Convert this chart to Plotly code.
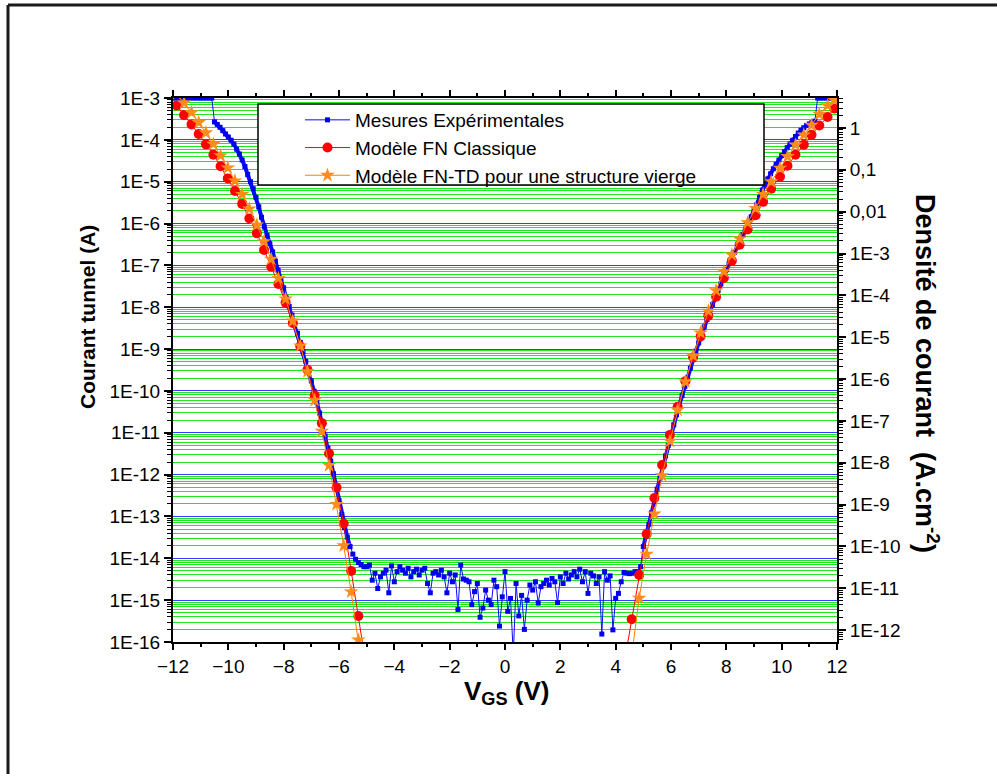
import plotly.graph_objects as go

# ---------------- data ----------------
v_exp = [
    -12.0, -11.9, -11.8, -11.7, -11.6, -11.5, -11.4, -11.3, -11.2, -11.1,
    -11.0, -10.9, -10.8, -10.7, -10.6, -10.5, -10.4, -10.3, -10.2, -10.1,
    -10.0, -9.9, -9.8, -9.7, -9.6, -9.5, -9.4, -9.3, -9.2, -9.1,
    -9.0, -8.9, -8.8, -8.7, -8.6, -8.5, -8.4, -8.3, -8.2, -8.1,
    -8.0, -7.9, -7.8, -7.7, -7.6, -7.5, -7.4, -7.3, -7.2, -7.1,
    -7.0, -6.9, -6.8, -6.7, -6.6, -6.5, -6.4, -6.3, -6.2, -6.1,
    -6.0, -5.9, -5.8, -5.7, -5.6, -5.5, -5.4, -5.3, -5.2, -5.1,
    -5.0, -4.9, -4.8, -4.7, -4.6, -4.5, -4.4, -4.3, -4.2, -4.1,
    -4.0, -3.9, -3.8, -3.7, -3.6, -3.5, -3.4, -3.3, -3.2, -3.1,
    -3.0, -2.9, -2.8, -2.7, -2.6, -2.5, -2.4, -2.3, -2.2, -2.1,
    -2.0, -1.9, -1.8, -1.7, -1.6, -1.5, -1.4, -1.3, -1.2, -1.1,
    -1.0, -0.9, -0.8, -0.7, -0.6, -0.5, -0.4, -0.3, -0.2, -0.1,
    0.0, 0.1, 0.2, 0.3, 0.4, 0.5, 0.6, 0.7, 0.8, 0.9,
    1.0, 1.1, 1.2, 1.3, 1.4, 1.5, 1.6, 1.7, 1.8, 1.9,
    2.0, 2.1, 2.2, 2.3, 2.4, 2.5, 2.6, 2.7, 2.8, 2.9,
    3.0, 3.1, 3.2, 3.3, 3.4, 3.5, 3.6, 3.7, 3.8, 3.9,
    4.0, 4.1, 4.2, 4.3, 4.4, 4.5, 4.6, 4.7, 4.8, 4.9,
    5.0, 5.1, 5.2, 5.3, 5.4, 5.5, 5.6, 5.7, 5.8, 5.9,
    6.0, 6.1, 6.2, 6.3, 6.4, 6.5, 6.6, 6.7, 6.8, 6.9,
    7.0, 7.1, 7.2, 7.3, 7.4, 7.5, 7.6, 7.7, 7.8, 7.9,
    8.0, 8.1, 8.2, 8.3, 8.4, 8.5, 8.6, 8.7, 8.8, 8.9,
    9.0, 9.1, 9.2, 9.3, 9.4, 9.5, 9.6, 9.7, 9.8, 9.9,
    10.0, 10.1, 10.2, 10.3, 10.4, 10.5, 10.6, 10.7, 10.8, 10.9,
    11.0, 11.1, 11.2, 11.3, 11.4, 11.5, 11.6, 11.7, 11.8, 11.9,
    12.0,
]

i_exp = [
    1e-3, 1e-3, 1e-3, 1e-3, 1e-3, 1e-3, 1e-3, 1e-3, 1e-3, 1e-3,
    1e-3, 1e-3, 1e-3, 1e-3, 1e-3, 2.69e-4, 2.34e-4, 2.0e-4, 1.66e-4, 1.38e-4,
    1.17e-4, 9.8e-5, 7.9e-5, 6.0e-5, 4.6e-5, 3.3e-5, 2.3e-5, 1.48e-5, 1.0e-5, 6.8e-6,
    4.2e-6, 2.5e-6, 1.41e-6, 8.3e-7, 5.2e-7, 3.3e-7, 2.1e-7, 1.26e-7, 7.6e-8, 4.7e-8,
    2.9e-8, 1.66e-8, 1.05e-8, 6.5e-9, 4.0e-9, 2.4e-9, 1.45e-9, 8.7e-10, 5.1e-10, 3.0e-10,
    1.74e-10, 9.8e-11, 5.4e-11, 2.95e-11, 1.58e-11, 8.3e-12, 4.3e-12, 2.1e-12, 1.05e-12, 5.0e-13,
    2.4e-13, 1.12e-13, 5.4e-14, 3.2e-14, 1.9e-14, 1.26e-14, 9.5e-15, 7.9e-15, 7.1e-15, 6.3e-15,
    6.3e-15, 6.9e-15, 3.0e-15, 4.4e-15, 1.9e-15, 3.6e-15, 4.4e-15, 5.2e-15, 1.5e-15, 6.6e-15,
    2.75e-15, 4.8e-15, 6.3e-15, 5.2e-15, 4.4e-15, 5.8e-15, 3.6e-15, 4.8e-15, 5.5e-15, 4.0e-15,
    5.2e-15, 5.8e-15, 2.5e-15, 1.5e-15, 4.4e-15, 4.8e-15, 4.0e-15, 5.2e-15, 3.6e-15, 1.5e-15,
    4.4e-15, 2.75e-15, 4.0e-15, 6.0e-16, 6.9e-15, 3.2e-15, 3.0e-15, 2.75e-15, 7.8e-16, 1.6e-15,
    2.5e-15, 3.9e-16, 6.5e-16, 1.74e-15, 1.0e-15, 7.8e-16, 3.0e-15, 2.1e-15, 2.4e-16, 1.2e-15,
    4.8e-15, 5.4e-16, 1.1e-15, 5e-17, 2.5e-15, 4.2e-16, 1.3e-15, 2.0e-16, 1.0e-15, 2.3e-15,
    1.74e-15, 2.75e-15, 8.5e-16, 2.1e-15, 2.5e-15, 3.0e-15, 2.3e-15, 3.3e-15, 2.75e-15, 8.7e-16,
    3.6e-15, 2.5e-15, 4.4e-15, 3.2e-15, 4.0e-15, 4.8e-15, 3.6e-15, 5.5e-15, 2.75e-15, 4.8e-15,
    1.45e-15, 4.4e-15, 3.8e-15, 2.5e-15, 3.6e-15, 1.55e-16, 4.8e-15, 3.0e-15, 3.8e-15, 1.95e-16,
    1.1e-15, 1.45e-15, 2.75e-15, 4.6e-15, 4.4e-15, 4.3e-15, 4.4e-15, 4.8e-15, 4.8e-15, 6.3e-15,
    1.9e-14, 3.4e-14, 6.5e-14, 1.23e-13, 2.3e-13, 4.5e-13, 8.3e-13, 1.55e-12, 2.8e-12, 5.0e-12,
    8.9e-12, 1.55e-11, 2.7e-11, 4.6e-11, 7.8e-11, 1.29e-10, 2.1e-10, 3.5e-10, 5.6e-10, 8.9e-10,
    1.41e-9, 2.2e-9, 3.4e-9, 5.1e-9, 7.8e-9, 1.15e-8, 1.7e-8, 2.5e-8, 3.6e-8, 5.2e-8,
    7.9e-8, 1.1e-7, 1.51e-7, 2.04e-7, 2.75e-7, 3.8e-7, 5.4e-7, 7.4e-7, 1.02e-6, 1.45e-6,
    2.0e-6, 2.8e-6, 4.2e-6, 6.3e-6, 8.7e-6, 1.17e-5, 1.55e-5, 2.04e-5, 2.6e-5, 3.3e-5,
    4.2e-5, 5.2e-5, 6.5e-5, 7.9e-5, 9.8e-5, 1.2e-4, 1.45e-4, 1.7e-4, 1.95e-4, 2.2e-4,
    2.4e-4, 2.6e-4, 2.8e-4, 1e-3, 1e-3, 1e-3, 1e-3, 1e-3, 1e-3, 1e-3,
    1e-3,
]

v_model_neg = [-11.87, -11.60, -11.33, -11.07, -10.81, -10.54, -10.28, -10.02, -9.76,
               -9.50, -9.24, -8.97, -8.71, -8.45, -8.19, -7.93, -7.67, -7.40, -7.14,
               -6.88, -6.62, -6.36, -6.09, -5.83, -5.56, -5.30, -5.04]
i_fn_neg = [6.6e-4, 3.9e-4, 2.34e-4, 1.38e-4, 7.8e-5, 4.4e-5, 2.34e-5, 1.2e-5, 6.0e-6,
            2.95e-6, 1.32e-6, 5.9e-7, 2.34e-7, 9.3e-8, 3.6e-8, 1.29e-8, 4.2e-9, 1.17e-9, 3.2e-10,
            7.9e-11, 1.7e-11, 3.2e-12, 4.9e-13, 6.8e-14, 5.0e-15, 4.2e-16, 3.2e-17]
i_td_neg = [1.26e-3, 7.6e-4, 4.5e-4, 2.6e-4, 1.48e-4, 7.9e-5, 4.2e-5, 2.14e-5, 1.05e-5,
            5.0e-6, 2.24e-6, 9.3e-7, 3.7e-7, 1.41e-7, 4.9e-8, 1.58e-8, 4.7e-9, 1.2e-9, 2.9e-10,
            6.0e-11, 1.1e-11, 1.66e-12, 1.95e-13, 2.0e-14, 1.58e-15, 1.12e-16, 6.3e-18]

v_model_pos = [4.31, 4.58, 4.85, 5.12, 5.40, 5.68, 5.96, 6.24, 6.52, 6.80, 7.07, 7.35,
               7.63, 7.91, 8.20, 8.48, 8.77, 9.06, 9.33, 9.62, 9.94, 10.21, 10.50, 10.80,
               11.08, 11.36, 11.66, 11.90]
i_fn_pos = [3.2e-17, 3.5e-16, 4.0e-15, 3.8e-14, 2.75e-13, 1.7e-12, 8.9e-12, 4.2e-11, 1.7e-10,
            6.3e-10, 2.0e-9, 6.3e-9, 1.78e-8, 5.0e-8, 1.29e-7, 3.1e-7, 7.2e-7, 1.58e-6,
            3.3e-6, 6.8e-6, 1.32e-5, 2.4e-5, 4.4e-5, 7.6e-5, 1.32e-4, 2.2e-4, 3.5e-4, 5.6e-4]
i_td_pos = [4e-18, 4.8e-17, 1.12e-15, 1.26e-14, 1.15e-13, 9.5e-13, 6.3e-12, 3.5e-11, 1.66e-10,
            6.9e-10, 2.45e-9, 8.1e-9, 2.5e-8, 7.1e-8, 1.78e-7, 4.3e-7, 1.05e-6, 2.3e-6,
            5.0e-6, 1.0e-5, 2.1e-5, 4.0e-5, 7.6e-5, 1.32e-4, 2.24e-4, 4.1e-4, 6.6e-4, 8.9e-4]

left_tickvals = [1e-3, 1e-4, 1e-5, 1e-6, 1e-7, 1e-8, 1e-9, 1e-10, 1e-11, 1e-12, 1e-13, 1e-14, 1e-15, 1e-16]
left_ticktext = ["1E-3", "1E-4", "1E-5", "1E-6", "1E-7", "1E-8", "1E-9", "1E-10",
                 "1E-11", "1E-12", "1E-13", "1E-14", "1E-15", "1E-16"]
right_tickvals = [1, 0.1, 0.01, 1e-3, 1e-4, 1e-5, 1e-6, 1e-7, 1e-8, 1e-9, 1e-10, 1e-11, 1e-12]
right_ticktext = ["1", "0,1", "0,01", "1E-3", "1E-4", "1E-5", "1E-6", "1E-7", "1E-8",
                  "1E-9", "1E-10", "1E-11", "1E-12"]
x_tickvals = [-12, -10, -8, -6, -4, -2, 0, 2, 4, 6, 8, 10, 12]
x_minor = [-11, -9, -7, -5, -3, -1, 1, 3, 5, 7, 9, 11]

names = ["Mesures Expérimentales", "Modèle FN Classique", "Modèle FN-TD pour une structure vierge"]

assert len(v_exp) == len(i_exp)

# ---------------- styling ----------------
FONT = "Liberation Sans, Arial, sans-serif"
L, R, T, B = 173, 160, 98, 132
W, H = 997, 774
PW, PH = W - L - R, H - T - B


def px(xp):
    return (xp - L) / PW


def py(yp):
    return (H - B - yp) / PH


left_minor = [m * 10.0 ** e for e in range(-16, -3) for m in range(2, 10)]
right_minor = [m * 10.0 ** e for e in range(-13, 1) for m in range(2, 10)
               if 5.2e-13 <= m * 10.0 ** e <= 5.2]

CLEAR = "rgba(0,0,0,0)"
BLUE = "#0a0aff"

# steep (tunnelling) parts of the measurement are drawn as a dense band,
# the noise floor keeps a thin connecting line
neg_steep = slice(15, 65)
pos_steep = slice(170, 233)

fig = go.Figure()

fig.add_trace(go.Scatter(
    x=v_exp[neg_steep] + [None] + v_exp[pos_steep],
    y=i_exp[neg_steep] + [None] + i_exp[pos_steep],
    mode="lines", line=dict(color=BLUE, width=4),
    legendgroup="exp", showlegend=False, hoverinfo="skip",
))
fig.add_trace(go.Scatter(
    x=v_exp, y=i_exp, mode="lines+markers", name=names[0], legendgroup="exp",
    line=dict(color=BLUE, width=1),
    marker=dict(symbol="square", size=5, color="#0000ee"),
))
fig.add_trace(go.Scatter(
    x=v_model_neg + [None] + v_model_pos, y=i_fn_neg + [None] + i_fn_pos,
    mode="lines+markers", name=names[1],
    line=dict(color="#ff0000", width=1),
    marker=dict(symbol="circle", size=10, color="#ff0000"),
))
fig.add_trace(go.Scatter(
    x=v_model_neg + [None] + v_model_pos, y=i_td_neg + [None] + i_td_pos,
    mode="lines+markers", name=names[2],
    line=dict(color="#ff8000", width=1),
    marker=dict(symbol="star", size=11, color="#ff8c1a"),
))
# invisible trace so that the right-hand axis is drawn
fig.add_trace(go.Scatter(
    x=[0], y=[1e-6], yaxis="y2", mode="markers", marker=dict(opacity=0),
    showlegend=False, hoverinfo="skip",
))

fig.update_layout(
    template="none",
    width=W, height=H,
    margin=dict(l=L, r=R, t=T, b=B, pad=0),
    paper_bgcolor="white", plot_bgcolor="white",
    font=dict(family=FONT, color="black", size=19),
    showlegend=True,
    legend=dict(
        x=px(300), y=py(101), xanchor="left", yanchor="top",
        bgcolor=CLEAR, borderwidth=0,
        font=dict(family=FONT, size=19, color="black"),
        itemwidth=45, tracegroupgap=0,
    ),
    xaxis=dict(
        range=[-12, 12], tickmode="array", tickvals=x_tickvals,
        ticks="outside", ticklen=6, tickwidth=1.5, tickcolor="black",
        showline=True, linewidth=2, linecolor="black", mirror="ticks",
        showgrid=False, zeroline=False,
        tickfont=dict(family=FONT, size=19, color="black"),
        minor=dict(tickvals=x_minor, ticks="outside", ticklen=3, tickwidth=1.5,
                   tickcolor="black", showgrid=False),
    ),
    yaxis=dict(
        type="log", range=[-16, -3], tickmode="array",
        tickvals=left_tickvals, ticktext=left_ticktext,
        ticks="outside", ticklen=7, tickwidth=1.5, tickcolor="black",
        showline=True, linewidth=2, linecolor="black",
        showgrid=True, gridcolor="#3c3cff", gridwidth=1,
        zeroline=False,
        tickfont=dict(family=FONT, size=19, color="black"),
        minor=dict(tickvals=left_minor, ticks="outside", ticklen=4, tickwidth=1,
                   tickcolor="black", showgrid=True, gridcolor="#22e622",
                   gridwidth=1),
    ),
    yaxis2=dict(
        type="log", range=[-12.284, 0.716], overlaying="y", side="right",
        tickmode="array", tickvals=right_tickvals, ticktext=right_ticktext,
        ticks="outside", ticklen=7, tickwidth=1.5, tickcolor="black",
        showline=True, linewidth=2, linecolor="black",
        showgrid=False, zeroline=False,
        tickfont=dict(family=FONT, size=19, color="black"),
        minor=dict(tickvals=right_minor, ticks="outside", ticklen=4, tickwidth=1,
                   tickcolor="black", showgrid=False),
    ),
    shapes=[
        # legend frame
        dict(type="rect", xref="paper", yref="paper",
             x0=px(258), x1=px(764), y0=py(185), y1=py(104),
             line=dict(color="black", width=1.5), fillcolor="white", layer="above"),
        # outer frame (left and top edges)
        dict(type="line", xref="paper", yref="paper",
             x0=px(8), x1=px(8), y0=py(5), y1=py(780),
             line=dict(color="#1a1a1a", width=3)),
        dict(type="line", xref="paper", yref="paper",
             x0=px(8), x1=px(1005), y0=py(5), y1=py(5),
             line=dict(color="#1a1a1a", width=3)),
    ],
    annotations=[
        dict(text="<b>Courant tunnel (A)</b>", xref="paper", yref="paper",
             x=px(87), y=py(317), textangle=-90, showarrow=False,
             xanchor="center", yanchor="middle",
             font=dict(family=FONT, size=21, color="black")),
        dict(text="<b>Densité de courant \u00a0(A.cm<sup>-2</sup>)</b>", xref="paper", yref="paper",
             x=px(927), y=py(374), textangle=90, showarrow=False,
             xanchor="center", yanchor="middle",
             font=dict(family=FONT, size=27, color="black")),
        dict(text="<b>V<sub>GS</sub> (V)</b>", xref="paper", yref="paper",
             x=px(507), y=py(692), showarrow=False,
             xanchor="center", yanchor="middle",
             font=dict(family=FONT, size=26, color="black")),
    ],
)

fig.write_html("out.html", config={"displayModeBar": False},
               post_script="document.body.style.margin='0px';")
